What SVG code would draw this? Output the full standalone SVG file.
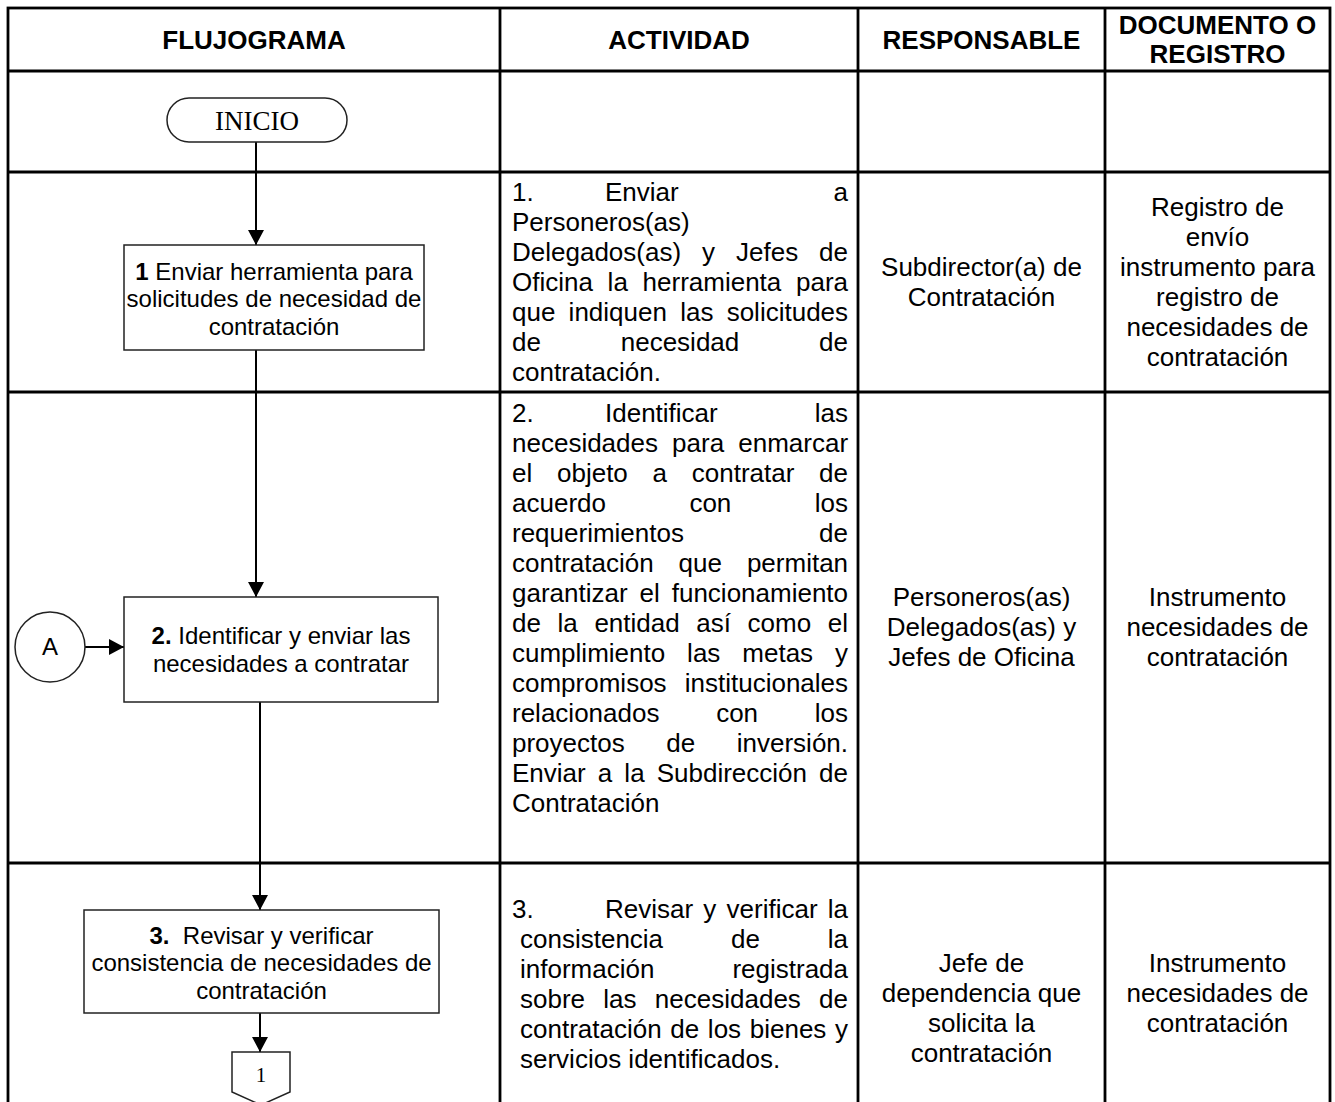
<svg xmlns="http://www.w3.org/2000/svg" width="1335" height="1102" viewBox="0 0 1335 1102">
<defs>
<marker id="ah" markerUnits="userSpaceOnUse" markerWidth="16" markerHeight="16" refX="15" refY="8" orient="auto"><path d="M0,0 L15,8 L0,16 z" fill="#000"/></marker>
<style>
.grid{fill:none;stroke:#000;stroke-width:2.8}
.hd{font-family:"Liberation Sans",Arial,sans-serif;font-weight:bold;font-size:26px;text-anchor:middle;fill:#000}
.t{font-family:"Liberation Sans",Arial,sans-serif;font-size:26px;fill:#000}
.c{text-anchor:middle}
.e{text-anchor:end}
.bx{fill:#fff;stroke:#222;stroke-width:1.5}
.bt{font-family:"Liberation Sans",Arial,sans-serif;font-size:24px;text-anchor:middle;fill:#000}
.sf{font-family:"Liberation Serif","Times New Roman",serif;fill:#000;text-anchor:middle}
.cn{fill:none;stroke:#000;stroke-width:2}
</style>
</defs>
<rect width="1335" height="1102" fill="#fff"/>
<g id="table">
<rect class="grid" x="8" y="8" width="1322" height="1098"/>
<path class="grid" d="M500,8V1106M858,8V1106M1105,8V1106M8,71H1330M8,172H1330M8,392H1330M8,863H1330"/>
<text class="hd" x="254" y="48.8">FLUJOGRAMA</text>
<text class="hd" x="679" y="48.8">ACTIVIDAD</text>
<text class="hd" x="981.5" y="48.8">RESPONSABLE</text>
<text class="hd" x="1217.5" y="33.8">DOCUMENTO O</text>
<text class="hd" x="1217.5" y="62.5">REGISTRO</text>
</g>
<g id="connectors">
<path class="cn" d="M256,142V245" marker-end="url(#ah)"/>
<path class="cn" d="M256,350V597" marker-end="url(#ah)"/>
<path class="cn" d="M85,647H124" marker-end="url(#ah)"/>
<path class="cn" d="M260,702V910" marker-end="url(#ah)"/>
<path class="cn" d="M260,1013V1052" marker-end="url(#ah)"/>
</g>
<g id="inicio">
<rect class="bx" x="167" y="98" width="180" height="44" rx="22"/>
<text class="sf" x="257" y="130" font-size="27">INICIO</text>
</g>
<g id="paso1">
<rect class="bx" x="124" y="245" width="300" height="105"/>
<text class="bt" x="274" y="279.5"><tspan font-weight="bold">1</tspan> Enviar herramienta para</text>
<text class="bt" x="274" y="307">solicitudes de necesidad de</text>
<text class="bt" x="274" y="334.5">contratación</text>
</g>
<g id="conectorA">
<circle class="bx" cx="50" cy="647" r="35"/>
<text class="bt" x="50" y="654.5" font-size="21">A</text>
</g>
<g id="paso2">
<rect class="bx" x="124" y="597" width="314" height="105"/>
<text class="bt" x="281" y="644"><tspan font-weight="bold">2.</tspan> Identificar y enviar las</text>
<text class="bt" x="281" y="671.5">necesidades a contratar</text>
</g>
<g id="paso3">
<rect class="bx" x="84" y="910" width="355" height="103"/>
<text class="bt" x="261.5" y="943.7"><tspan font-weight="bold">3.</tspan>&#160; Revisar y verificar</text>
<text class="bt" x="261.5" y="971.3">consistencia de necesidades de</text>
<text class="bt" x="261.5" y="998.9">contratación</text>
</g>
<g id="conector1">
<polygon class="bx" points="232,1052 290,1052 290,1092 261,1105 232,1092"/>
<text class="sf" x="261" y="1082" font-size="21">1</text>
</g>
<g id="actividad1" class="t">
<text x="512" y="200.6">1.</text><text x="605" y="200.6">Enviar</text><text class="e" x="848" y="200.6">a</text>
<text x="512" y="230.6">Personeros(as)</text>
<text x="512" y="260.6" style="word-spacing:13.73px">Delegados(as) y Jefes de</text>
<text x="512" y="290.6" style="word-spacing:7.48px">Oficina la herramienta para</text>
<text x="512" y="320.6" style="word-spacing:6.02px">que indiquen las solicitudes</text>
<text x="512" y="350.6" style="word-spacing:72.6px">de necesidad de</text>
<text x="512" y="380.6">contratación.</text>
</g>
<g id="actividad2" class="t">
<text x="512" y="421.7">2.</text><text x="605" y="421.7">Identificar</text><text class="e" x="848" y="421.7">las</text>
<text x="512" y="451.7" style="word-spacing:6.88px">necesidades para enmarcar</text>
<text x="512" y="481.7" style="word-spacing:17.52px">el objeto a contratar de</text>
<text x="512" y="511.7" style="word-spacing:76.23px">acuerdo con los</text>
<text x="512" y="541.7">requerimientos</text><text class="e" x="848" y="541.7">de</text>
<text x="512" y="571.7" style="word-spacing:17.71px">contratación que permitan</text>
<text x="512" y="601.7" style="word-spacing:4.71px">garantizar el funcionamiento</text>
<text x="512" y="631.7" style="word-spacing:9.39px">de la entidad así como el</text>
<text x="512" y="661.7" style="word-spacing:14.72px">cumplimiento las metas y</text>
<text x="512" y="691.7" style="word-spacing:10.92px">compromisos institucionales</text>
<text x="512" y="721.7" style="word-spacing:49.5px">relacionados con los</text>
<text x="512" y="751.7" style="word-spacing:34.33px">proyectos de inversión.</text>
<text x="512" y="781.7" style="word-spacing:4.88px">Enviar a la Subdirección de</text>
<text x="512" y="811.7">Contratación</text>
</g>
<g id="actividad3" class="t">
<text x="512" y="918.3">3.</text><text x="605" y="918.3" style="word-spacing:2.99px">Revisar y verificar la</text>
<text x="520" y="948.3" style="word-spacing:60.68px">consistencia de la</text>
<text x="520" y="978.3" style="word-spacing:70.81px">información registrada</text>
<text x="520" y="1008.3" style="word-spacing:11.06px">sobre las necesidades de</text>
<text x="520" y="1038.3" style="word-spacing:1.43px">contratación de los bienes y</text>
<text x="520" y="1068.3">servicios identificados.</text>
</g>
<g id="responsable" class="t c">
<text x="981.5" y="275.6">Subdirector(a) de</text>
<text x="981.5" y="305.6">Contratación</text>
<text x="981.5" y="606">Personeros(as)</text>
<text x="981.5" y="636">Delegados(as) y</text>
<text x="981.5" y="666">Jefes de Oficina</text>
<text x="981.5" y="972">Jefe de</text>
<text x="981.5" y="1002">dependencia que</text>
<text x="981.5" y="1032">solicita la</text>
<text x="981.5" y="1062">contratación</text>
</g>
<g id="documento" class="t c">
<text x="1217.5" y="215.6">Registro de</text>
<text x="1217.5" y="245.6">envío</text>
<text x="1217.5" y="275.6">instrumento para</text>
<text x="1217.5" y="305.6">registro de</text>
<text x="1217.5" y="335.6">necesidades de</text>
<text x="1217.5" y="365.6">contratación</text>
<text x="1217.5" y="606">Instrumento</text>
<text x="1217.5" y="636">necesidades de</text>
<text x="1217.5" y="666">contratación</text>
<text x="1217.5" y="972">Instrumento</text>
<text x="1217.5" y="1002">necesidades de</text>
<text x="1217.5" y="1032">contratación</text>
</g>
</svg>
